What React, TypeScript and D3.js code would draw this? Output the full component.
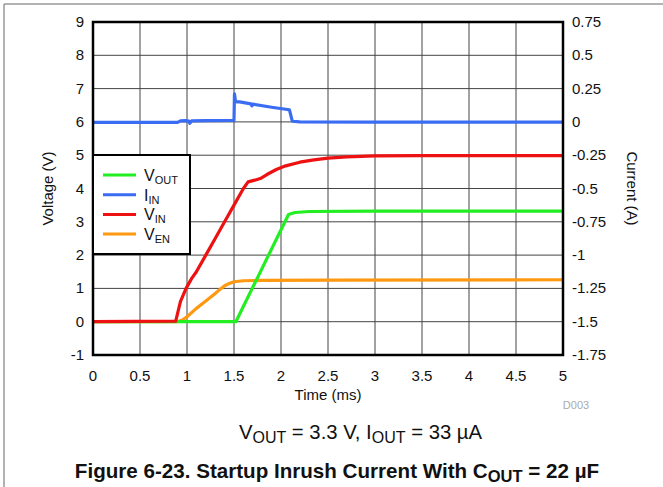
import React from "react";
import * as d3 from "d3";

const xTicks = [0, 0.5, 1, 1.5, 2, 2.5, 3, 3.5, 4, 4.5, 5];
const xTickLabels = ["0", "0.5", "1", "1.5", "2", "2.5", "3", "3.5", "4", "4.5", "5"];
const yTicks = [9, 8, 7, 6, 5, 4, 3, 2, 1, 0, -1];
const y2Ticks = [0.75, 0.5, 0.25, 0, -0.25, -0.5, -0.75, -1, -1.25, -1.5, -1.75];

// V_OUT (V)
const voutT = [0, 1.52, 2.08, 2.15, 2.3, 3.0, 5];
const voutV = [0, 0, 3.22, 3.28, 3.31, 3.32, 3.32];

// I_IN (A) on right axis
const iinT = [0, 0.5, 0.9, 0.93, 0.98, 1.02, 1.03, 1.05, 1.2, 1.5, 1.505, 1.515, 1.53, 1.56, 1.68, 1.69, 1.7, 1.9, 2.05, 2.09, 2.12, 2.2, 3, 4, 5];
const iinA = [-0.004, -0.003, -0.003, 0.008, 0.01, 0.006, -0.01, 0.008, 0.01, 0.012, 0.21, 0.16, 0.15, 0.15, 0.135, 0.12, 0.133, 0.11, 0.095, 0.09, 0.005, 0, -0.001, -0.001, -0.002];

// V_IN (V)
const vinT = [0, 0.88, 0.93, 0.99, 1.05, 1.1, 1.2, 1.3, 1.4, 1.5, 1.6, 1.65, 1.72, 1.78, 1.85, 1.95, 2.05, 2.2, 2.35, 2.5, 2.7, 3.0, 3.5, 5];
const vinV = [0, 0.02, 0.6, 1.0, 1.3, 1.5, 2.0, 2.5, 3.0, 3.5, 4.0, 4.2, 4.25, 4.3, 4.42, 4.57, 4.68, 4.79, 4.86, 4.91, 4.95, 4.98, 4.99, 4.99];

// V_EN (V)
const venT = [0, 0.9, 0.95, 1.0, 1.1, 1.2, 1.3, 1.35, 1.4, 1.45, 1.5, 1.6, 1.8, 2.5, 5];
const venV = [0, 0, 0.05, 0.15, 0.4, 0.62, 0.85, 0.97, 1.08, 1.15, 1.2, 1.23, 1.24, 1.25, 1.26];

const seriesNames = ["V", "I", "V", "V"];
const seriesSubs = ["OUT", "IN", "IN", "EN"];
const seriesColors = ["#22ee22", "#3a6cf4", "#ee1111", "#ff9911"];

const W = 663;
const H = 487;
const L = 93, R = 563, T = 22, B = 355;

export default function App() {
  const x = d3.scaleLinear().domain([0, 5]).range([L, R]);
  const y = d3.scaleLinear().domain([-1, 9]).range([B, T]);
  const y2 = d3.scaleLinear().domain([-1.75, 0.75]).range([B, T]);

  const line = d3.line<[number, number]>().x((d) => d[0]).y((d) => d[1]);
  const mk = (ts: number[], vs: number[], sc: d3.ScaleLinear<number, number>) =>
    line(ts.map((t, i) => [x(t), sc(vs[i])] as [number, number])) || "";

  const paths = [
    { d: mk(venT, venV, y), c: seriesColors[3] },
    { d: mk(voutT, voutV, y), c: seriesColors[0] },
    { d: mk(vinT, vinV, y), c: seriesColors[2] },
    { d: mk(iinT, iinA, y2), c: seriesColors[1] },
  ];

  const font = "'Liberation Sans', Arial, sans-serif";
  const legX = 93, legY = 155, legW = 97, legH = 99;

  return (
    <svg width={W} height={H} style={{ position: "absolute", left: 0, top: 0 }} fontFamily={font}>
      <rect x={0} y={0} width={W} height={H} fill="#fff" />
      <line x1={4} y1={4} x2={W} y2={4} stroke="#999" strokeWidth={1.5} />
      <line x1={4} y1={4} x2={4} y2={H} stroke="#999" strokeWidth={1.5} />

      {xTicks.map((t) => (
        <line key={"gx" + t} x1={x(t)} x2={x(t)} y1={T} y2={B} stroke="#444" strokeWidth={1} />
      ))}
      {yTicks.map((v) => (
        <line key={"gy" + v} x1={L} x2={R} y1={y(v)} y2={y(v)} stroke="#444" strokeWidth={1} />
      ))}

      {paths.map((p, i) => (
        <path key={i} d={p.d} fill="none" stroke={p.c} strokeWidth={3.2} strokeLinejoin="round" />
      ))}

      <rect x={L} y={T} width={R - L} height={B - T} fill="none" stroke="#000" strokeWidth={2.5} />

      {xTicks.map((t, i) => (
        <text key={"xl" + t} x={x(t)} y={381} textAnchor="middle" fontSize={15} fill="#111">
          {xTickLabels[i]}
        </text>
      ))}
      {yTicks.map((v) => (
        <text key={"yl" + v} x={84} y={y(v) + 5} textAnchor="end" fontSize={15} fill="#111">
          {v}
        </text>
      ))}
      {y2Ticks.map((v) => (
        <text key={"y2l" + v} x={572} y={y2(v) + 5} textAnchor="start" fontSize={15} fill="#111">
          {v}
        </text>
      ))}

      <text x={x(2.5)} y={400} textAnchor="middle" fontSize={15} fill="#111">Time (ms)</text>
      <text transform={`translate(53,${(T + B) / 2}) rotate(-90)`} textAnchor="middle" fontSize={15} fill="#111">
        Voltage (V)
      </text>
      <text transform={`translate(627,${(T + B) / 2}) rotate(90)`} textAnchor="middle" fontSize={15} fill="#111">
        Current (A)
      </text>
      <text x={576} y={409} textAnchor="middle" fontSize={11} fill="#aaa">D003</text>

      <g>
        <rect x={legX} y={legY} width={legW} height={legH} fill="#fff" stroke="#000" strokeWidth={2} />
        {seriesNames.map((n, i) => {
          const yy = legY + 20 + i * 19.7;
          return (
            <g key={"lg" + i}>
              <line x1={legX + 10} x2={legX + 43} y1={yy} y2={yy} stroke={seriesColors[i]} strokeWidth={3} />
              <text x={legX + 51} y={yy + 6} fontSize={16} fill="#111">
                {n}
                <tspan fontSize={11} dy={3}>{seriesSubs[i]}</tspan>
              </text>
            </g>
          );
        })}
      </g>

      <text x={360.5} y={439} textAnchor="middle" fontSize={20.3} fill="#111">
        V<tspan fontSize={16} dy={4}>OUT</tspan>
        <tspan dy={-4}> = 3.3 V, I</tspan>
        <tspan fontSize={16} dy={4}>OUT</tspan>
        <tspan dy={-4}> = 33 µA</tspan>
      </text>
      <text x={337} y={478} textAnchor="middle" fontSize={20.6} fontWeight="bold" fill="#111">
        Figure 6-23. Startup Inrush Current With C<tspan fontSize={16.5} dy={4}>OUT</tspan>
        <tspan dy={-4}> = 22 µF</tspan>
      </text>
    </svg>
  );
}
